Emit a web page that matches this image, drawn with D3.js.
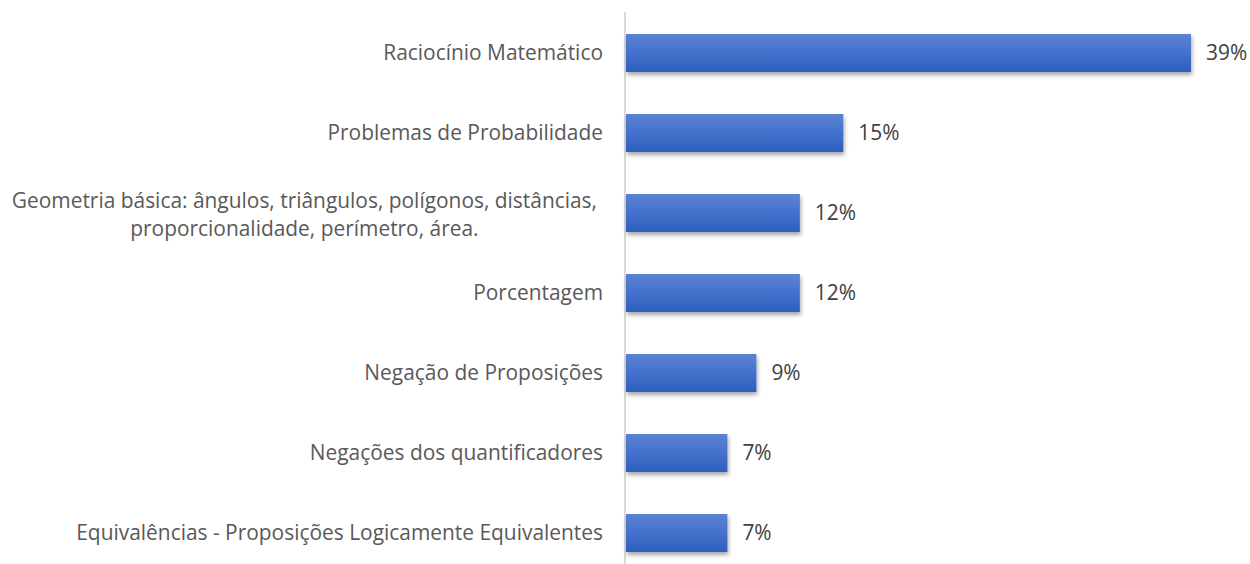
<!DOCTYPE html>
<html>
<head>
<meta charset="utf-8">
<script src="https://cdn.jsdelivr.net/npm/d3@7"></script>
<style>
  body { margin: 0; background: #fff; }
  svg text { font-family: "Open Sans", "Noto Sans", sans-serif; }
</style>
</head>
<body>
<div id="chart"></div>
<script>
// data
const categories = [
  "Raciocínio Matemático",
  "Problemas de Probabilidade",
  "Geometria básica: ângulos, triângulos, polígonos, distâncias,|proporcionalidade, perímetro, área.",
  "Porcentagem",
  "Negação de Proposições",
  "Negações dos quantificadores",
  "Equivalências - Proposições Logicamente Equivalentes"
];
const values = [39, 15, 12, 12, 9, 7, 7];

const width = 1250, height = 564;
const axisX = 625;

const svg = d3.select('#chart').append('svg')
    .attr('width', width)
    .attr('height', height);

// calibrate font size so the widest label matches the reference width (~527px)
const probe = svg.append('text').attr('font-size', '18px')
    .text("Equivalências - Proposições Logicamente Equivalentes");
const fontSize = 18 * 527 / probe.node().getComputedTextLength();
probe.remove();

// gradient + soft shadow like the office chart
const defs = svg.append('defs');
const grad = defs.append('linearGradient')
    .attr('id', 'barGrad')
    .attr('x1', 0).attr('y1', 0).attr('x2', 0).attr('y2', 1);
grad.append('stop').attr('offset', '0%').attr('stop-color', '#5b84d2');
grad.append('stop').attr('offset', '50%').attr('stop-color', '#4371cc');
grad.append('stop').attr('offset', '100%').attr('stop-color', '#2f5fbd');

const shadow = defs.append('filter')
    .attr('id', 'shadow')
    .attr('x', '-5%').attr('y', '-20%').attr('width', '115%').attr('height', '160%');
shadow.append('feDropShadow')
    .attr('dx', 1).attr('dy', 3)
    .attr('stdDeviation', 2)
    .attr('flood-color', '#000')
    .attr('flood-opacity', 0.35);

const xScale = d3.scaleLinear()
    .domain([0, 39])
    .range([axisX + 1, 1191]);

const yScale = d3.scaleBand()
    .domain(categories)
    .range([13, 573])
    .paddingInner(0.525)
    .paddingOuter(0.2625);

// axis line
svg.append('line')
    .attr('x1', axisX).attr('x2', axisX)
    .attr('y1', 12).attr('y2', height)
    .attr('stroke', '#d9d9d9')
    .attr('stroke-width', 2);

// bars
svg.selectAll('.bar')
    .data(categories)
    .join('rect')
    .attr('class', 'bar')
    .attr('x', xScale(0))
    .attr('y', d => yScale(d))
    .attr('width', (d, i) => xScale(values[i]) - xScale(0))
    .attr('height', yScale.bandwidth())
    .attr('fill', 'url(#barGrad)')
    .attr('filter', 'url(#shadow)');

// value labels
svg.selectAll('.value')
    .data(categories)
    .join('text')
    .attr('class', 'value')
    .attr('x', (d, i) => xScale(values[i]) + 15)
    .attr('y', d => yScale(d) + yScale.bandwidth() / 2)
    .attr('dy', '0.35em')
    .attr('font-size', fontSize + 'px')
    .attr('fill', '#404040')
    .text((d, i) => values[i] + '%');

// category labels, multi-line ones centred as a block right-aligned to the axis
const labelRight = 603;
const lineH = 28;
categories.forEach(cat => {
  const lines = cat.split('|');
  const cy = yScale(cat) + yScale.bandwidth() / 2;
  const g = svg.append('g').attr('class', 'cat-label');
  const texts = lines.map((ln, j) => g.append('text')
      .attr('y', cy + (j - (lines.length - 1) / 2) * lineH + (lines.length > 1 ? 1.5 : 0))
      .attr('dy', '0.35em')
      .attr('font-size', fontSize + 'px')
      .attr('fill', '#595959')
      .text(ln));
  const maxW = d3.max(texts, t => t.node().getComputedTextLength());
  // wrapped lines keep a trailing space in the original, so the block sits a bit further left
  const right = lines.length > 1 ? labelRight - 6 : labelRight;
  texts.forEach(t => t
      .attr('text-anchor', 'middle')
      .attr('x', right - maxW / 2));
});
</script>
</body>
</html>
